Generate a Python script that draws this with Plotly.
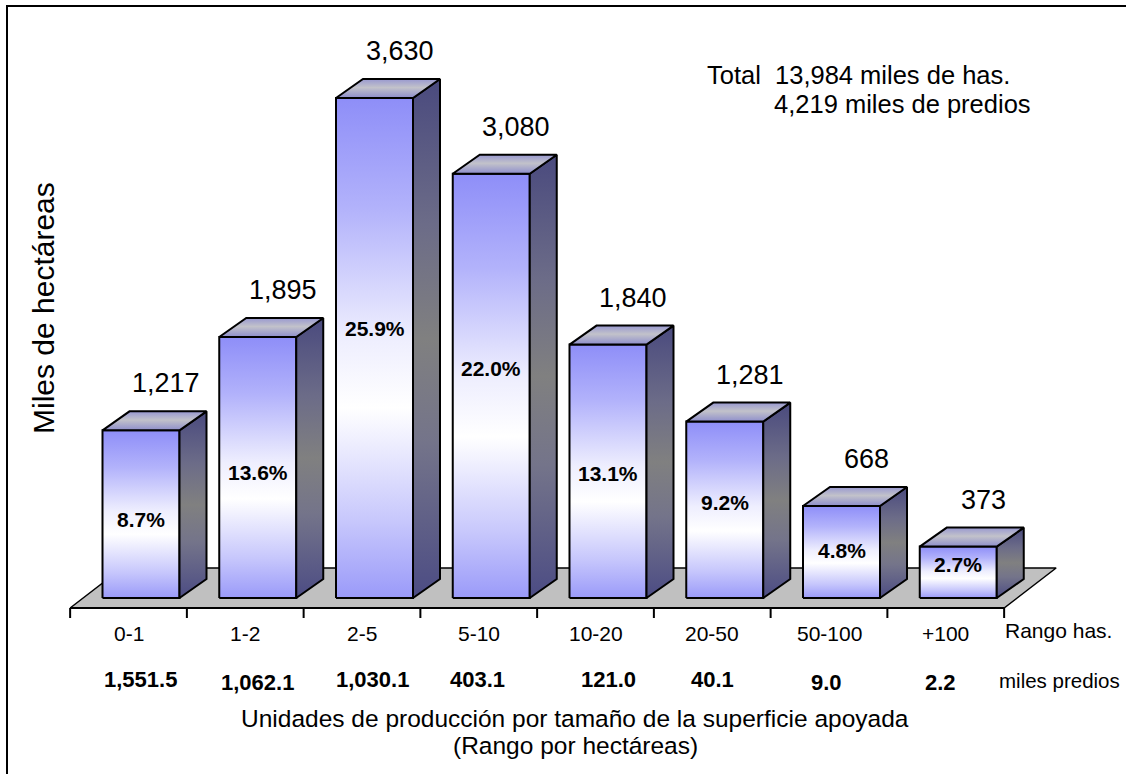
import plotly.graph_objects as go

# ---- data ---------------------------------------------------------------
categories = ["0-1", "1-2", "2-5", "5-10", "10-20", "20-50", "50-100", "+100"]
hectareas = [1217, 1895, 3630, 3080, 1840, 1281, 668, 373]        # miles de hectáreas
porcentaje = [8.7, 13.6, 25.9, 22.0, 13.1, 9.2, 4.8, 2.7]         # % de la superficie
predios = [1551.5, 1062.1, 1030.1, 403.1, 121.0, 40.1, 9.0, 2.2]  # miles de predios
total_has = 13984
total_predios = 4219

# ---- layout constants (pixels) -----------------------------------------
W, H = 1126, 774
CAT_PX = 116.75        # width of one category slot on the floor
X0_PX = 128.5          # x pixel of the first category centre on the floor front
BASE_PX = 598          # y pixel of the bars' front baseline
K = 0.13774            # pixels per thousand hectares

FONT = "Liberation Sans, Arial, sans-serif"


def dx(p):
    """horizontal pixel offset -> x data units"""
    return p / CAT_PX


def dy(p):
    """upward pixel offset -> y data units"""
    return p / K


def py(p):
    """pixel row -> paper y"""
    return 1 - p / H


def pxx(p):
    """pixel column -> paper x"""
    return p / W


n = len(categories)
BAR_SHIFT = dx(12.5)   # bars sit a little behind the floor's front edge
HALF_W = dx(38.5)
DEPTH_X, DEPTH_Y = dx(27), dy(19)
FLOOR_Y = -dy(10)
FLOOR_DX, FLOOR_DY = dx(52), dy(40)

front_scale = [[0, "#9a9af9"], [0.15, "#c6c6fc"], [0.38, "#ffffff"],
               [0.52, "#eeeefe"], [0.78, "#b2b2fb"], [1, "#8e8ef8"]]
side_scale = [[0, "#4c4c84"], [0.3, "#74748a"], [0.5, "#808080"],
              [0.72, "#6c6c88"], [1, "#4a4a7e"]]
top_scale = [[0, "#8e8ecc"], [0.55, "#c2c2ca"], [1, "#9898d0"]]

fig = go.Figure()


def face(xs, ys, scale, width=2):
    fig.add_trace(go.Scatter(
        x=xs, y=ys, mode="lines", fill="toself",
        fillgradient=dict(type="vertical", colorscale=scale),
        line=dict(color="black", width=width),
        hoverinfo="skip", showlegend=False,
    ))


# floor
fx0, fx1 = -0.5, n - 0.5
fig.add_trace(go.Scatter(
    x=[fx0, fx1, fx1 + FLOOR_DX, fx0 + FLOOR_DX, fx0],
    y=[FLOOR_Y, FLOOR_Y, FLOOR_Y + FLOOR_DY, FLOOR_Y + FLOOR_DY, FLOOR_Y],
    mode="lines", fill="toself", fillcolor="#c0c0c0",
    line=dict(color="black", width=1.5), hoverinfo="skip", showlegend=False,
))

# front edge of the floor with category tick marks
tick_x, tick_y = [fx0, fx1, None], [FLOOR_Y, FLOOR_Y, None]
for k in range(n + 1):
    tick_x += [k - 0.5, k - 0.5, None]
    tick_y += [FLOOR_Y, FLOOR_Y - dy(10), None]
fig.add_trace(go.Scatter(x=tick_x, y=tick_y, mode="lines",
                         line=dict(color="black", width=2),
                         hoverinfo="skip", showlegend=False))

# 3-D bars: front, side and top faces
for i, v in enumerate(hectareas):
    c = i + BAR_SHIFT
    xl, xr = c - HALF_W, c + HALF_W
    face([xl, xr, xr, xl, xl], [0, 0, v, v, 0], front_scale)
    face([xr, xr + DEPTH_X, xr + DEPTH_X, xr, xr],
         [0, DEPTH_Y, v + DEPTH_Y, v, 0], side_scale)
    face([xl, xr, xr + DEPTH_X, xl + DEPTH_X, xl],
         [v, v, v + DEPTH_Y, v + DEPTH_Y, v], top_scale)

annotations = []


def label(x, y, text, size, xref="paper", yref="paper", xanchor="center", **kw):
    annotations.append(dict(
        x=x, y=y, xref=xref, yref=yref, text=text, showarrow=False,
        xanchor=xanchor, yanchor="middle",
        font=dict(family=FONT, size=size, color="black"), **kw,
    ))


# value above each bar and share inside it
pct_pos = [0.47, 0.48, 0.54, 0.54, 0.49, 0.54, 0.52, 0.65]
for i, (v, p) in enumerate(zip(hectareas, porcentaje)):
    c = i + BAR_SHIFT
    label(c + dx(25), v + dy(47), f"{v:,}", 27, xref="x", yref="y")
    label(c, v * pct_pos[i], f"<b>{p:.1f}%</b>", 21, xref="x", yref="y")

# category labels and number of holdings under the floor
predios_dx = [12, 12, 10, -1, 13, 0, -3, -5]
predios_dy = [679, 682, 679, 679, 679, 679, 682, 682]
for i, (cat, pr) in enumerate(zip(categories, predios)):
    label(i, py(633), cat, 21, xref="x")
    label(i + dx(predios_dx[i]), py(predios_dy[i]), f"<b>{pr:,.1f}</b>", 22,
          xref="x")

label(pxx(1003), py(630), "Rango has.", 21, xanchor="left")
label(pxx(997), py(680), "miles predios", 20.5, xanchor="left")
label(pxx(575), py(718),
      "Unidades de producción por tamaño de la superficie apoyada", 24.5)
label(pxx(575), py(745), "(Rango por hectáreas)", 24.5)
label(pxx(43), py(308), "Miles de hectáreas", 30, textangle=-90)
label(pxx(705), py(75), f"Total  {total_has:,} miles de has.", 25.5,
      xanchor="left")
label(pxx(772), py(104), f"{total_predios:,} miles de predios", 25.5,
      xanchor="left")

# frame lines along the left and top edges
shapes = [
    dict(type="line", xref="paper", yref="paper",
         x0=pxx(7), x1=pxx(7), y0=py(6), y1=0,
         line=dict(color="black", width=2)),
    dict(type="line", xref="paper", yref="paper",
         x0=pxx(6), x1=1, y0=py(6), y1=py(6),
         line=dict(color="black", width=2)),
]

fig.update_layout(
    width=W, height=H,
    margin=dict(l=0, r=0, t=0, b=0),
    paper_bgcolor="white", plot_bgcolor="white",
    xaxis=dict(range=[-X0_PX / CAT_PX, (W - X0_PX) / CAT_PX],
               visible=False, fixedrange=True),
    yaxis=dict(range=[(BASE_PX - H) / K, BASE_PX / K],
               visible=False, fixedrange=True),
    annotations=annotations,
    shapes=shapes,
    showlegend=False,
)

fig.write_html("out.html")
